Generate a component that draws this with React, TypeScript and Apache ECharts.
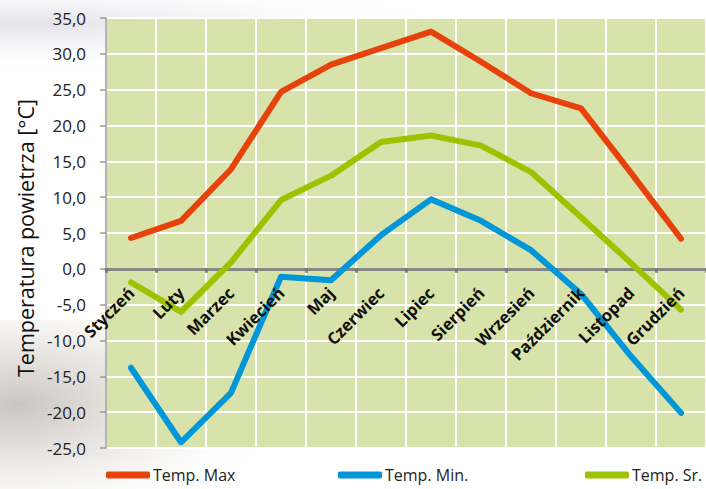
import React, { useEffect, useRef } from "react";
import * as echarts from "echarts";

const months = ["Styczeń", "Luty", "Marzec", "Kwiecień", "Maj", "Czerwiec", "Lipiec", "Sierpień", "Wrzesień", "Październik", "Listopad", "Grudzień"];
const tempMax = [4.3, 6.7, 13.9, 24.7, 28.5, 30.8, 33.1, 28.9, 24.5, 22.4, 13.4, 4.2];
const tempMin = [-13.8, -24.2, -17.3, -1.1, -1.6, 4.7, 9.7, 6.7, 2.6, -3.5, -12.2, -20.1];
const tempSr = [-1.9, -6.0, 0.9, 9.6, 13.0, 17.7, 18.6, 17.2, 13.5, 7.2, 0.8, -5.7];
const seriesNames = ["Temp. Max", "Temp. Min.", "Temp. Sr."];
const seriesColors = ["#e8420c", "#0096d8", "#9fc200"];
const yMin = -25;
const yMax = 35;
const yStep = 5;

const FONT = "'Open Sans', 'Noto Sans', sans-serif";

export default function App() {
  const ref = useRef<HTMLDivElement>(null);
  useEffect(() => {
    if (!ref.current) return;
    const chart = echarts.init(ref.current, null, { renderer: "svg" });
    const values = [tempMax, tempMin, tempSr];
    const legendLefts = [106, 338, 585];
    const gridTop = 18;
    const gridBottom = 41;
    const plotH = 489 - gridTop - gridBottom;
    const zeroOffset = -(plotH * (0 - yMin)) / (yMax - yMin);
    chart.setOption({
      animation: false,
      backgroundColor: "#ffffff",
      textStyle: { fontFamily: FONT },
      graphic: [
        {
          type: "rect",
          silent: true,
          z: -10,
          shape: { x: 0, y: 0, width: 706, height: 80 },
          style: {
            fill: new echarts.graphic.RadialGradient(0.05, 0.3, 0.6, [
              { offset: 0, color: "rgba(222,222,230,0.9)" },
              { offset: 1, color: "rgba(255,255,255,0)" },
            ]),
          },
        },
        {
          type: "rect",
          silent: true,
          z: -10,
          shape: { x: 0, y: 320, width: 360, height: 169 },
          style: {
            fill: new echarts.graphic.RadialGradient(0.05, 0.5, 0.75, [
              { offset: 0, color: "rgba(195,190,186,0.9)" },
              { offset: 0.45, color: "rgba(220,216,210,0.6)" },
              { offset: 1, color: "rgba(255,255,255,0)" },
            ]),
          },
        },
      ],
      grid: {
        left: 106,
        top: gridTop,
        right: 0,
        bottom: gridBottom,
        show: true,
        backgroundColor: "#d7e3ab",
        borderColor: "#9a9a9a",
        borderWidth: 1.5,
        containLabel: false,
        outerBoundsMode: "none",
      },
      legend: seriesNames.map((n, i) => ({
        data: [n],
        left: legendLefts[i],
        top: 467,
        padding: 0,
        icon: "roundRect",
        itemWidth: 44,
        itemHeight: 7,
        itemGap: 0,
        textStyle: { fontSize: 16, color: "#222", fontFamily: FONT, padding: [0, 0, 0, -2] },
      })),
      xAxis: [
        {
          type: "category",
          data: months,
          boundaryGap: true,
          position: "bottom",
          offset: zeroOffset,
          z: 0,
          axisLine: { show: true, onZero: false, lineStyle: { color: "rgba(115,115,115,0.85)", width: 3 } },
          axisTick: { show: true, interval: 0, length: 4, lineStyle: { color: "rgba(115,115,115,0.85)", width: 3 } },
          axisLabel: { show: false, interval: 0 },
          splitLine: { show: true, interval: 0, lineStyle: { color: "#ffffff", width: 2 } },
        },
        {
          type: "category",
          data: months,
          boundaryGap: true,
          position: "bottom",
          offset: zeroOffset,
          z: 10,
          axisLine: { show: false, onZero: false },
          axisTick: { show: false },
          splitLine: { show: false },
          axisLabel: {
            interval: 0,
            rotate: 45,
            margin: 21,
            fontSize: 16.5,
            fontWeight: "bold",
            color: "#111",
            fontFamily: FONT,
          },
        },
      ],
      yAxis: {
        type: "value",
        min: yMin,
        max: yMax,
        interval: yStep,
        name: "Temperatura powietrza [°C]",
        nameLocation: "middle",
        nameGap: 70,
        nameTextStyle: { fontSize: 21.5, color: "#111", fontFamily: FONT, padding: [0, 10, 0, 0] },
        axisLine: { show: true, lineStyle: { color: "#9a9a9a", width: 1.5 } },
        axisTick: { show: true, length: 6, lineStyle: { color: "#9a9a9a", width: 1.5 } },
        axisLabel: {
          margin: 20,
          fontSize: 17,
          color: "#222",
          fontFamily: FONT,
          formatter: (v: number) => v.toFixed(1).replace(".", ","),
        },
        splitLine: { show: true, lineStyle: { color: "#ffffff", width: 2 } },
      },
      series: seriesNames.map((n, i) => ({
        name: n,
        type: "line",
        xAxisIndex: 0,
        data: values[i],
        symbol: "none",
        color: seriesColors[i],
        z: 3,
        lineStyle: { width: 6, color: seriesColors[i], cap: "round", join: "round" },
      })),
    });
    return () => chart.dispose();
  }, []);
  return (
    <div
      ref={ref}
      style={{ position: "fixed", left: 0, top: 0, width: 706, height: 489 }}
    />
  );
}
